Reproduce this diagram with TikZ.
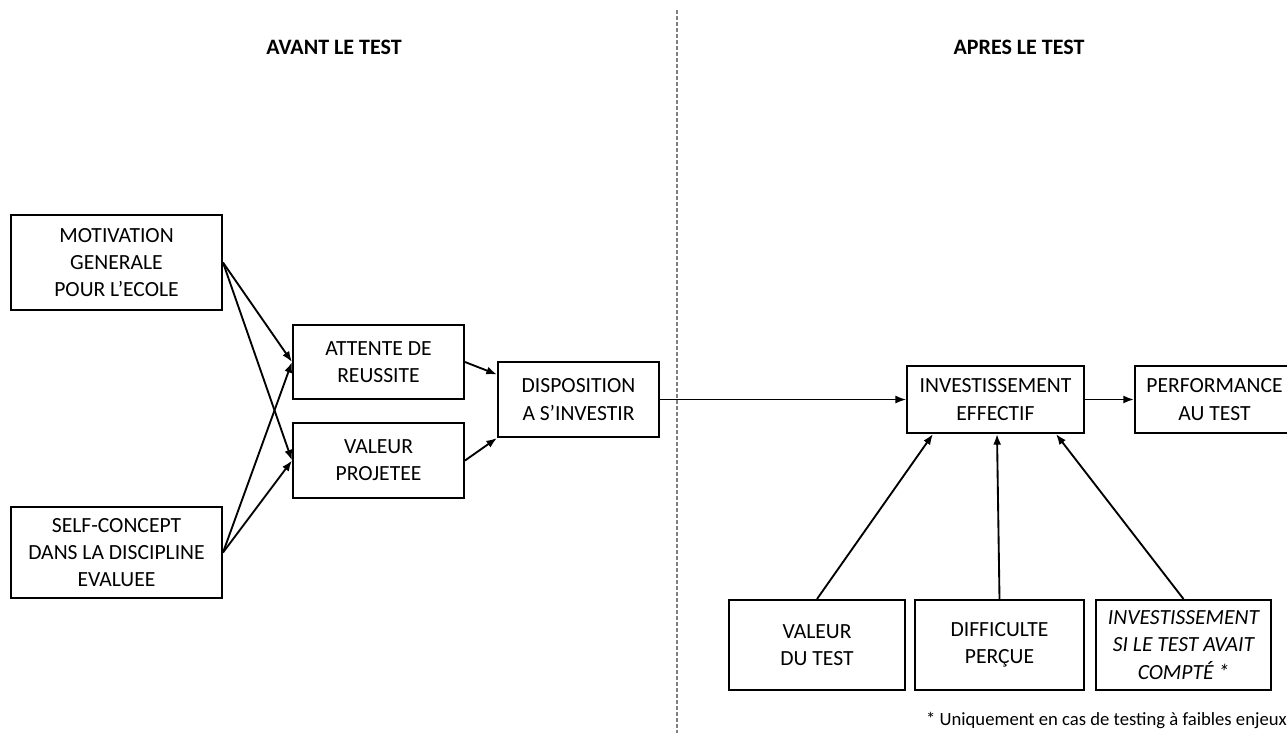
\documentclass[tikz,border=0pt]{standalone}
\usepackage{fontspec}
\setmainfont{Carlito}
\usetikzlibrary{positioning,calc,arrows.meta}

\begin{document}
\begin{tikzpicture}[
  x=0.75pt, y=-0.75pt,
  every node/.style={
    font=\fontsize{16.2}{20.4}\selectfont,
    align=center,
    inner sep=0pt
  },
  box/.style={
    rectangle,
    draw=black,
    line width=1.5pt,
    fill=white
  },
  arrow/.style={-{Latex[length=8pt,width=6pt]}, line width=1.4pt}
]
  \useasboundingbox (0,0) rectangle (1287,733);

  % separation avant / apres
  \coordinate (sepTop) at (677,10);
  \coordinate (sepBot) at (677,733);
  \draw[gray, line width=1.1pt, dash pattern=on 3pt off 1.5pt] (sepTop) -- (sepBot);

  \node[font=\fontsize{16.5}{20}\selectfont\bfseries] (avant) at (334,47) {AVANT LE TEST};
  \node[font=\fontsize{16.5}{20}\selectfont\bfseries] (apres) at (1019,47) {APRES LE TEST};

  % avant le test
  \node[box, minimum width=158.25pt, minimum height=71.25pt] (motiv) at (116.5,262.5) {MOTIVATION\\GENERALE\\POUR L’ECOLE};
  \node[box, minimum width=158.25pt, minimum height=68.25pt] (selfc) at (116.5,552.5) {SELF-CONCEPT\\DANS LA DISCIPLINE\\EVALUEE};
  \node[box, minimum width=128.25pt, minimum height=55.5pt] (attente) at (378.5,362) {ATTENTE DE\\REUSSITE};
  \node[box, minimum width=128.25pt, minimum height=56.25pt] (valproj) at (378.5,460.5) {VALEUR\\PROJETEE};
  \node[box, minimum width=120.75pt, minimum height=56.25pt] (disp) at (578.5,399.5) {DISPOSITION\\A S’INVESTIR};

  % apres le test
  \node[box, minimum width=132.75pt, minimum height=50.25pt] (invest) at (995.5,399.5) {INVESTISSEMENT\\EFFECTIF};
  \node[box, minimum width=119.25pt, minimum height=50.25pt] (perf) at (1214.5,399.5) {PERFORMANCE\\AU TEST};
  \node[box, minimum width=132pt, minimum height=67.5pt] (valtest) at (817,645) {VALEUR\\DU TEST};
  \node[box, minimum width=126.75pt, minimum height=67.5pt] (diff) at (999.5,645) {DIFFICULTE\\PERÇUE};
  \node[box, minimum width=131.25pt, minimum height=67.5pt, font=\fontsize{16.2}{20.4}\selectfont\itshape] (invsi) at (1183.5,645) {INVESTISSEMENT\\SI LE TEST AVAIT\\COMPTÉ *};

  \node[anchor=east, font=\fontsize{14}{17}\selectfont] (note) at (1287,720) {* Uniquement en cas de testing à faibles enjeux};

  \draw[arrow] (motiv.east) -- (attente.west);
  \draw[arrow] (motiv.east) -- (valproj.west);
  \draw[arrow] (selfc.east) -- (attente.west);
  \draw[arrow] (selfc.east) -- (valproj.west);

  \draw[arrow] (attente.east) -- ($(disp.west)+(0,-25)$);
  \draw[arrow] (valproj.east) -- (disp.south west);

  \draw[arrow, line width=1pt] (disp.east) -- (invest.west);
  \draw[arrow] (invest.east) -- (perf.west);

  \draw[arrow] (valtest.north) -- ($(invest.south west)+(27,0)$);
  \draw[arrow] (diff.north) -- ($(invest.south)+(1.5,0)$);
  \draw[arrow] (invsi.north) -- ($(invest.south east)+(-29,0)$);

\end{tikzpicture}
\end{document}
